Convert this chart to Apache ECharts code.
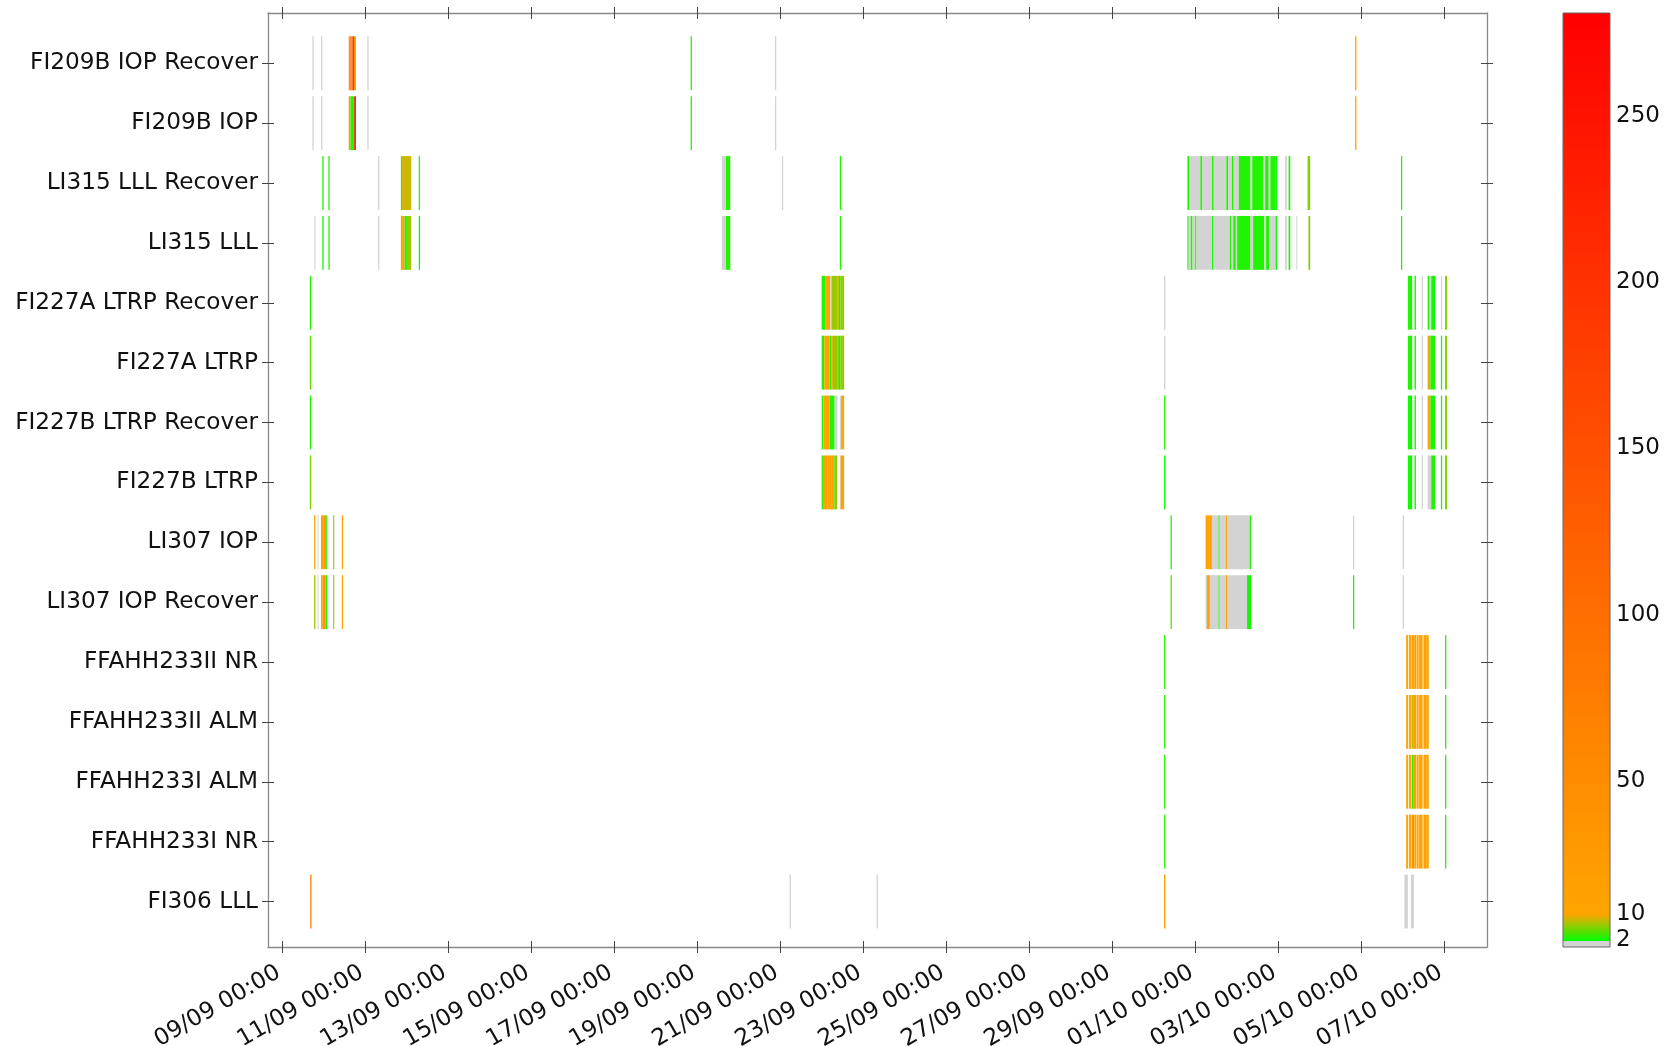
<!DOCTYPE html>
<html><head><meta charset="utf-8">
<script src="https://cdn.jsdelivr.net/npm/echarts@6/dist/echarts.min.js"></script>
<style>html,body{margin:0;padding:0;background:#fff}#c{width:1671px;height:1046px}</style>
</head><body><div id="c"></div>
<script>
const YEAR = 2019;
const rowNames = ['FI209B IOP Recover','FI209B IOP','LI315 LLL Recover','LI315 LLL','FI227A LTRP Recover','FI227A LTRP','FI227B LTRP Recover','FI227B LTRP','LI307 IOP','LI307 IOP Recover','FFAHH233II NR','FFAHH233II ALM','FFAHH233I ALM','FFAHH233I NR','FI306 LLL'];
const xTickLabels = ['09/09 00:00','11/09 00:00','13/09 00:00','15/09 00:00','17/09 00:00','19/09 00:00','21/09 00:00','23/09 00:00','25/09 00:00','27/09 00:00','29/09 00:00','01/10 00:00','03/10 00:00','05/10 00:00','07/10 00:00'];
const xStart = '08/09 15:50';
const xEnd = '08/10 00:45';
const cbTicks = [2,10,50,100,150,200,250];
const cbMax = 281;
const colorStops = [[0,'#d3d3d3'],[2,'#d3d3d3'],[2,'#00ff00'],[10,'#ffa500'],[281,'#ff0000']];

// [start, end, count]
const fi209bIopRecover = [
 ['09/09 17:30','09/09 18:15',1],['09/09 22:30','09/09 23:15',1],
 ['10/09 14:30','10/09 15:30',30],['10/09 15:30','10/09 16:00',150],['10/09 16:00','10/09 16:45',45],
 ['10/09 16:45','10/09 17:30',260],['10/09 17:30','10/09 18:40',40],
 ['11/09 01:15','11/09 02:00',1],['18/09 20:15','18/09 21:00',3],['20/09 21:00','20/09 21:45',1],
 ['04/10 20:30','04/10 21:15',16]
];
const fi209bIop = [
 ['09/09 17:30','09/09 18:15',1],['09/09 22:30','09/09 23:15',1],
 ['10/09 14:30','10/09 15:30',25],['10/09 15:30','10/09 17:00',3],['10/09 17:00','10/09 17:40',6],
 ['10/09 17:40','10/09 18:40',250],
 ['11/09 01:15','11/09 02:00',1],['18/09 20:15','18/09 21:00',3],['20/09 21:00','20/09 21:45',1],
 ['04/10 20:30','04/10 21:15',16]
];
const li315LllRecover = [
 ['09/09 23:15','10/09 00:00',3],['10/09 02:45','10/09 03:30',3],['11/09 07:30','11/09 08:15',1],
 ['11/09 20:40','11/09 21:20',5],['11/09 21:20','12/09 02:40',8.5],['12/09 07:00','12/09 07:45',3],
 ['19/09 14:20','19/09 16:40',1],['19/09 16:40','19/09 19:10',3],['21/09 01:00','21/09 01:45',1],
 ['22/09 10:30','22/09 11:15',3],
 ['30/09 19:30','30/09 20:30',3],['30/09 20:30','01/10 03:00',1],['01/10 03:00','01/10 04:00',3],
 ['01/10 04:00','01/10 09:45',1],['01/10 09:45','01/10 10:45',3],['01/10 10:45','01/10 18:00',1],
 ['01/10 18:00','01/10 19:00',3],['01/10 19:00','01/10 21:15',1],['01/10 21:15','01/10 22:15',3],
 ['01/10 22:15','02/10 01:15',1],['02/10 01:15','02/10 08:00',3],['02/10 08:00','02/10 09:00',1.5],
 ['02/10 09:00','02/10 15:30',3],['02/10 15:30','02/10 16:30',1],['02/10 16:30','02/10 18:30',3],
 ['02/10 18:30','02/10 19:30',1],['02/10 19:30','02/10 22:30',3],['02/10 22:30','02/10 23:20',2.2],
 ['03/10 04:00','03/10 05:00',1],['03/10 06:00','03/10 07:00',3],['03/10 17:00','03/10 18:30',6],
 ['05/10 23:00','05/10 23:45',3]
];
const li315Lll = [
 ['09/09 18:40','09/09 19:20',1],['09/09 23:15','10/09 00:00',2.5],['10/09 02:45','10/09 03:30',3],
 ['11/09 07:30','11/09 08:15',1],['11/09 20:40','11/09 22:50',14],['11/09 22:50','12/09 00:10',3],
 ['12/09 00:10','12/09 02:40',7],['12/09 07:00','12/09 07:45',2.2],
 ['19/09 14:20','19/09 16:40',1],['19/09 16:40','19/09 19:10',3],['22/09 10:30','22/09 11:15',3],
 ['30/09 19:30','30/09 20:15',3],['30/09 20:15','30/09 21:30',1],['30/09 21:30','30/09 22:30',3],
 ['30/09 22:30','01/10 00:00',1],['01/10 00:00','01/10 00:45',3],['01/10 00:45','01/10 09:45',1],
 ['01/10 09:45','01/10 10:30',2.5],['01/10 10:30','01/10 20:00',1],['01/10 20:00','01/10 21:00',3],
 ['01/10 21:00','01/10 22:00',1],['01/10 22:00','01/10 23:30',3],['01/10 23:30','02/10 00:15',1],
 ['02/10 00:15','02/10 08:00',3],['02/10 08:00','02/10 09:30',1],['02/10 09:30','02/10 16:00',3],
 ['02/10 16:00','02/10 17:00',1],['02/10 17:00','02/10 19:00',3],['02/10 19:00','02/10 22:30',1.5],
 ['02/10 22:30','02/10 23:20',2.2],['03/10 04:00','03/10 05:00',1],['03/10 06:00','03/10 07:00',3],
 ['03/10 10:30','03/10 11:00',1],['03/10 17:30','03/10 18:30',6],
 ['05/10 23:00','05/10 23:45',3]
];
const fi227aLtrpRecover = [
 ['09/09 16:00','09/09 16:50',3],
 ['22/09 00:00','22/09 02:00',3],['22/09 02:00','22/09 05:00',14],['22/09 05:00','22/09 05:40',1],
 ['22/09 05:40','22/09 09:00',7],['22/09 09:00','22/09 10:00',8],['22/09 10:00','22/09 11:00',3],
 ['22/09 11:00','22/09 13:00',7],
 ['30/09 06:00','30/09 06:45',1],
 ['06/10 03:00','06/10 05:30',3],['06/10 06:50','06/10 07:40',2.5],['06/10 11:00','06/10 11:45',1],
 ['06/10 14:25','06/10 15:30',3],['06/10 15:30','06/10 16:30',1],['06/10 16:30','06/10 18:45',2.5],
 ['06/10 22:05','06/10 22:50',1.5],['07/10 00:30','07/10 01:40',6]
];
const fi227aLtrp = [
 ['09/09 16:00','09/09 16:50',5],
 ['22/09 00:00','22/09 01:30',3],['22/09 01:30','22/09 04:30',13],['22/09 04:30','22/09 05:30',3],
 ['22/09 05:30','22/09 06:30',14],['22/09 06:30','22/09 09:00',7],['22/09 09:00','22/09 10:00',6],
 ['22/09 10:00','22/09 11:00',3],['22/09 11:00','22/09 13:00',7],
 ['30/09 06:00','30/09 06:45',1],
 ['06/10 03:00','06/10 05:30',3],['06/10 06:50','06/10 07:40',3],['06/10 11:00','06/10 11:45',1],
 ['06/10 14:25','06/10 16:00',9],['06/10 16:00','06/10 18:45',3],['06/10 22:05','06/10 22:50',3],
 ['07/10 00:30','07/10 01:40',6]
];
const fi227bLtrpRecover = [
 ['09/09 16:00','09/09 16:50',3],
 ['22/09 00:00','22/09 01:00',3],['22/09 01:00','22/09 04:35',14],['22/09 04:35','22/09 07:30',3],
 ['22/09 07:30','22/09 09:10',1],['22/09 10:30','22/09 11:15',1],['22/09 11:15','22/09 13:00',14],
 ['30/09 06:00','30/09 06:45',3],
 ['06/10 03:00','06/10 05:30',2.5],['06/10 06:50','06/10 07:40',3],['06/10 11:00','06/10 11:45',1],
 ['06/10 14:25','06/10 16:00',12],['06/10 16:00','06/10 18:45',3],['06/10 22:05','06/10 22:50',3],
 ['07/10 00:30','07/10 01:40',6]
];
const fi227bLtrp = [
 ['09/09 16:00','09/09 16:50',6],
 ['22/09 00:00','22/09 00:45',3],['22/09 00:45','22/09 03:15',15],['22/09 03:15','22/09 06:40',10],
 ['22/09 06:40','22/09 07:30',3],['22/09 07:30','22/09 09:00',7],['22/09 10:30','22/09 11:00',1],
 ['22/09 11:00','22/09 13:00',16],
 ['30/09 06:00','30/09 06:45',2.2],
 ['06/10 03:00','06/10 05:30',2.5],['06/10 06:50','06/10 07:40',3],['06/10 11:00','06/10 11:45',1],
 ['06/10 14:25','06/10 16:30',1],['06/10 16:30','06/10 18:45',3],['06/10 22:05','06/10 22:50',3],
 ['07/10 00:30','07/10 01:40',6]
];
const li307Iop = [
 ['09/09 18:30','09/09 19:15',12],['09/09 20:30','09/09 21:00',1],['09/09 22:30','09/09 23:45',18],
 ['09/09 23:45','10/09 01:30',30],['10/09 01:30','10/09 02:10',3],['10/09 05:30','10/09 06:10',7],
 ['10/09 10:30','10/09 11:15',15],
 ['30/09 09:45','30/09 10:30',3],
 ['01/10 06:00','01/10 08:30',12],['01/10 08:30','01/10 09:40',25],['01/10 09:40','01/10 13:30',1],
 ['01/10 13:30','01/10 14:10',3],['01/10 14:10','01/10 17:45',1],['01/10 17:45','01/10 18:30',11],
 ['01/10 18:30','02/10 07:30',1],['02/10 07:30','02/10 08:20',3],
 ['04/10 19:15','04/10 20:00',1],['06/10 00:00','06/10 00:45',1]
];
const li307IopRecover = [
 ['09/09 18:30','09/09 19:15',7],['09/09 20:30','09/09 21:00',1],['09/09 22:30','09/09 23:30',16],
 ['09/09 23:30','10/09 01:15',40],['10/09 01:15','10/09 02:10',3],['10/09 05:30','10/09 06:10',7],
 ['10/09 10:30','10/09 11:15',15],
 ['30/09 09:45','30/09 10:30',5],
 ['01/10 06:00','01/10 06:45',1],['01/10 06:45','01/10 08:30',16],['01/10 08:30','01/10 13:30',1],
 ['01/10 13:30','01/10 14:10',3],['01/10 14:10','01/10 17:45',1],['01/10 17:45','01/10 18:45',12],
 ['01/10 18:45','02/10 06:00',1],['02/10 06:00','02/10 08:20',2.5],
 ['04/10 19:15','04/10 20:00',3],['06/10 00:00','06/10 00:45',1]
];
const ffahh233iiNr = [
 ['30/09 06:00','30/09 06:45',3],
 ['06/10 02:00','06/10 03:10',13],['06/10 03:40','06/10 05:00',11],['06/10 05:15','06/10 06:00',22],
 ['06/10 06:00','06/10 06:40',9],['06/10 06:40','06/10 07:45',22],['06/10 08:00','06/10 09:15',11],
 ['06/10 09:30','06/10 11:30',17],['06/10 12:00','06/10 13:55',16],['06/10 13:55','06/10 15:05',10],
 ['07/10 00:30','07/10 01:15',3]
];
const ffahh233iiAlm = [
 ['30/09 06:00','30/09 06:45',3],
 ['06/10 02:00','06/10 03:10',13],['06/10 03:40','06/10 05:00',11],['06/10 05:15','06/10 06:00',8],
 ['06/10 06:00','06/10 07:45',20],['06/10 08:00','06/10 09:15',11],
 ['06/10 09:30','06/10 11:30',17],['06/10 12:00','06/10 13:55',16],['06/10 13:55','06/10 15:05',10],
 ['07/10 00:30','07/10 01:15',3]
];
const ffahh233iAlm = [
 ['30/09 06:00','30/09 06:45',3],
 ['06/10 02:00','06/10 03:10',13],['06/10 03:40','06/10 05:00',11],['06/10 05:15','06/10 06:00',3],
 ['06/10 06:00','06/10 07:45',22],['06/10 08:00','06/10 09:15',11],
 ['06/10 09:30','06/10 11:30',17],['06/10 12:00','06/10 13:55',15],['06/10 13:55','06/10 15:05',10],
 ['07/10 00:30','07/10 01:15',3]
];
const ffahh233iNr = [
 ['30/09 06:00','30/09 06:45',3],
 ['06/10 02:00','06/10 03:10',13],['06/10 03:40','06/10 05:00',10],['06/10 05:15','06/10 06:45',45],
 ['06/10 06:45','06/10 07:45',12],['06/10 08:00','06/10 09:15',11],
 ['06/10 09:30','06/10 11:30',18],['06/10 12:00','06/10 13:55',16],['06/10 13:55','06/10 15:05',10],
 ['07/10 00:30','07/10 01:15',3]
];
const fi306Lll = [
 ['09/09 16:15','09/09 17:00',70],['21/09 05:30','21/09 06:15',1],['23/09 07:45','23/09 08:30',1],
 ['30/09 06:00','30/09 06:45',30],['06/10 01:00','06/10 03:00',1],['06/10 04:45','06/10 06:30',1]
];
const rowSegments = [fi209bIopRecover, fi209bIop, li315LllRecover, li315Lll, fi227aLtrpRecover, fi227aLtrp,
  fi227bLtrpRecover, fi227bLtrp, li307Iop, li307IopRecover, ffahh233iiNr, ffahh233iiAlm, ffahh233iAlm,
  ffahh233iNr, fi306Lll];

// ---- helpers ----
function parseT(s){
  const [dm, hm] = s.split(' ');
  const [dd, mm] = dm.split('/').map(Number);
  const [HH, MN] = hm.split(':').map(Number);
  return (Date.UTC(YEAR, mm-1, dd, HH, MN) - Date.UTC(YEAR, 8, 9)) / 864e5;
}
function hex(c){ return [parseInt(c.slice(1,3),16), parseInt(c.slice(3,5),16), parseInt(c.slice(5,7),16)]; }
function cmap(v){
  for (let i = colorStops.length - 2; i >= 0; i--) {
    const [v0, c0] = colorStops[i], [v1, c1] = colorStops[i+1];
    if (v1 > v0 && v >= v0) {
      const t = Math.min(1, (v - v0) / (v1 - v0));
      const a = hex(c0), b = hex(c1);
      return 'rgb(' + a.map((x, k) => Math.round(x + (b[k] - x) * t)).join(',') + ')';
    }
  }
  return colorStops[0][1];
}
const cells = [];
rowSegments.forEach((segs, r) => segs.forEach(([a, b, v]) => cells.push([parseT(a), parseT(b), r, v])));
const xTicks = xTickLabels.map(parseT);
const rowTicks = rowNames.map((_, i) => i);
const FONT = 'DejaVu Sans';
const xMin = parseT(xStart), xMax = parseT(xEnd);

const spineStyle = {color:'#8a8a8a', width:1.3};
const tickStyle = {color:'#444', width:1};
function xAx(pos, inside, labels){
  return {type:'value', gridIndex:0, position:pos, min:xMin, max:xMax,
    axisLine:{show:!inside, lineStyle:spineStyle, onZero:false},
    axisTick:{show:true, inside, length:6, lineStyle:tickStyle, customValues:xTicks},
    axisLabel: labels ? {show:true, customValues:xTicks, rotate:30, margin:22, padding:[0,4,0,0], fontFamily:FONT, fontSize:23.2, color:'#111',
      formatter:(v)=>{ const i = xTicks.findIndex(t => Math.abs(t - v) < 1e-6); return i >= 0 ? xTickLabels[i] : ''; }} : {show:false},
    splitLine:{show:false}};
}
function yAx(pos, inside, labels){
  return {type:'value', gridIndex:0, position:pos, min:-0.84, max:14.76, inverse:true,
    axisLine:{show:!inside, lineStyle:spineStyle, onZero:false},
    axisTick:{show:true, inside, length:6, lineStyle:tickStyle, customValues:rowTicks},
    axisLabel: labels ? {show:true, customValues:rowTicks, margin:10, fontFamily:FONT, fontSize:23.2, color:'#111',
      formatter:(v)=>rowNames[Math.round(v)] || ''} : {show:false},
    splitLine:{show:false}};
}

const chart = echarts.init(document.getElementById('c'), null, {renderer:'canvas'});
chart.setOption({
  animation:false,
  backgroundColor:'#fff',
  grid:[{left:268, top:13, width:1219, height:934, containLabel:false, outerBoundsMode:'none'},
        {left:1563, top:13, width:47, height:934, containLabel:false, outerBoundsMode:'none'}],
  xAxis:[xAx('bottom', false, true), xAx('bottom', true, false), xAx('top', false, false), xAx('top', true, false),
    {type:'value', gridIndex:1, min:0, max:1, show:false}],
  yAxis:[yAx('left', false, true), yAx('left', true, false), yAx('right', false, false), yAx('right', true, false),
    {type:'value', gridIndex:1, position:'right', min:0, max:cbMax,
     axisLine:{show:false}, splitLine:{show:false},
     axisTick:{show:true, length:4, lineStyle:{color:'#555'}, customValues:cbTicks},
     axisLabel:{show:true, customValues:cbTicks, margin:6, fontFamily:FONT, fontSize:23, color:'#111'}}],
  series:[
    {type:'custom', coordinateSystem:'cartesian2d', xAxisIndex:0, yAxisIndex:0, silent:true, clip:true,
     encode:{x:[0,1], y:2}, data:cells,
     renderItem(params, api){
       const r = api.value(2);
       const p0 = api.coord([api.value(0), r]);
       const p1 = api.coord([api.value(1), r]);
       const h = Math.abs(api.size([0, 1])[1]) * 0.9;
       return {type:'rect', shape:{x:p0[0], y:p0[1] - h/2, width:Math.max(p1[0] - p0[0], 1), height:h},
               style:{fill:cmap(api.value(3))}};
     }},
    {type:'custom', coordinateSystem:'cartesian2d', xAxisIndex:4, yAxisIndex:4, silent:true,
     encode:{x:0, y:[1,2]}, data:[[0, 0, cbMax]],
     renderItem(params, api){
       const b = api.coord([0, 0]), t = api.coord([1, cbMax]);
       const grad = new echarts.graphic.LinearGradient(0, 1, 0, 0,
         colorStops.map(([v, c]) => ({offset:v / cbMax, color:c})));
       return {type:'rect', shape:{x:b[0], y:t[1], width:t[0] - b[0], height:b[1] - t[1]},
               style:{fill:grad, stroke:'#666', lineWidth:1}};
     }}
  ]
});
</script></body></html>
